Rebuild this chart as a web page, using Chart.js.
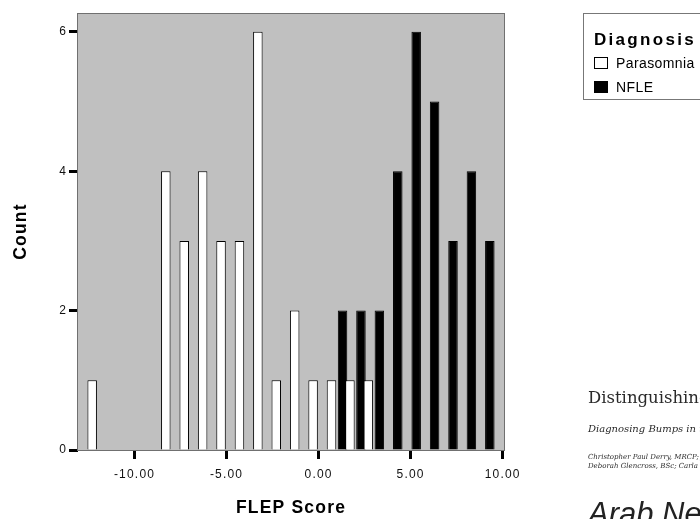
<!DOCTYPE html>
<html>
<head>
<meta charset="utf-8">
<script src="https://cdn.jsdelivr.net/npm/chart.js@4.4.1/dist/chart.umd.min.js"></script>
<style>
  html, body { margin: 0; padding: 0; background: #fff; }
  #wrap { position: relative; width: 700px; height: 519px; overflow: hidden; font-family: "Liberation Sans", Arial, sans-serif; }
  #flep { position: absolute; left: 0; top: 0; }
  #legend { position: absolute; left: 583px; top: 13px; width: 140px; height: 85px; border: 1px solid #777; border-right: none; }
  #legend .ttl { position: absolute; left: 10px; top: 17px; font-size: 17px; font-weight: bold; line-height: 17px; letter-spacing: 2.3px; color: #000; }
  #legend .row { position: absolute; left: 10px; height: 14px; }
  #legend .sw { position: absolute; left: 0; top: 0; width: 14px; height: 12px; border: 1px solid #000; box-sizing: border-box; }
  #legend .lbl { position: absolute; left: 22px; top: -1px; font-size: 14px; line-height: 14px; letter-spacing: 0.4px; white-space: nowrap; color: #000; }
  .paper { position: absolute; left: 588px; white-space: nowrap; color: #2a2a2a; }
</style>
</head>
<body>
<div id="wrap">
  <canvas id="flep" width="700" height="519"></canvas>
  <div id="legend"></div>
  <div class="paper" style="top:388px;font-family:'DejaVu Serif',serif;font-size:16.5px;">Distinguishing Nocturnal Frontal Lobe Epilepsy</div>
  <div class="paper" style="top:423px;font-family:'DejaVu Serif',serif;font-style:italic;font-size:10px;">Diagnosing Bumps in the Night</div>
  <div class="paper" style="top:453px;font-family:'DejaVu Serif',serif;font-style:italic;font-size:7px;">Christopher Paul Derry, MRCP; John S. Duncan</div>
  <div class="paper" style="top:462px;font-family:'DejaVu Serif',serif;font-style:italic;font-size:7px;">Deborah Glencross, BSc; Carla Ferreira</div>
  <div class="paper" style="top:496px;font-family:'Liberation Sans',Arial,sans-serif;font-style:italic;font-size:31px;color:#222;">Arab Ne</div>
</div>
<script>
// histogram bins (FLEP score) and counts per diagnosis
const parasomniaBins = [-12, -8, -7, -6, -5, -4, -3, -2, -1, 0, 1, 2, 3];
const parasomniaCounts = [1, 4, 3, 4, 3, 3, 6, 1, 2, 1, 1, 1, 1];
const nfleBins = [1, 2, 3, 4, 5, 6, 7, 8, 9];
const nfleCounts = [2, 2, 2, 4, 6, 5, 3, 4, 3];

const seriesNames = ['Parasomnia', 'NFLE'];
const seriesColors = ['#ffffff', '#000000'];
const xTicks = [-10, -5, 0, 5, 10];
const yTicks = [0, 2, 4, 6];
const xRange = [-13.07, 10.07];
const yRange = [0, 6.27];

const toPoints = (bins, counts) => bins.map((b, i) => ({ x: b, y: counts[i] }));

// gray plot background, frame and a little letter spacing like the SPSS output
const plotFrame = {
  id: 'plotFrame',
  beforeDraw(chart) {
    const { ctx, chartArea: a } = chart;
    ctx.letterSpacing = '1.2px';
    ctx.save();
    ctx.fillStyle = '#c0c0c0';
    ctx.fillRect(a.left, a.top, a.right - a.left, a.bottom - a.top);
    ctx.restore();
  },
  afterDatasetsDraw(chart) {
    const { ctx, chartArea: a } = chart;
    ctx.save();
    ctx.strokeStyle = '#707070';
    ctx.lineWidth = 1;
    ctx.strokeRect(a.left - 0.5, a.top + 0.5, a.right - a.left + 1, a.bottom - a.top);
    ctx.restore();
  }
};

const datasets = [
  { label: seriesNames[0], data: toPoints(parasomniaBins, parasomniaCounts) },
  { label: seriesNames[1], data: toPoints(nfleBins, nfleCounts) }
].map((d, i) => ({
  ...d,
  backgroundColor: seriesColors[i],
  borderColor: '#000',
  borderWidth: 1,
  borderSkipped: 'start',
  categoryPercentage: 1.2,
  barPercentage: 0.86
}));

// legend drawn next to the plot, from the same series names
const legendEl = document.getElementById('legend');
legendEl.innerHTML = '<div class="ttl">Diagnosis</div>' + seriesNames.map((n, i) =>
  `<div class="row" style="top:${43 + i * 24}px"><div class="sw" style="background:${seriesColors[i]}"></div><div class="lbl">${n}</div></div>`
).join('');

new Chart(document.getElementById('flep').getContext('2d'), {
  type: 'bar',
  data: { datasets },
  plugins: [plotFrame],
  options: {
    responsive: false,
    animation: false,
    devicePixelRatio: 1,
    layout: { padding: { left: 0, top: 13, right: 196, bottom: 0 } },
    plugins: { legend: { display: false }, tooltip: { enabled: false } },
    scales: {
      x: {
        type: 'linear',
        offset: false,
        min: xRange[0],
        max: xRange[1],
        afterFit: s => { s.height = 69; },
        afterBuildTicks: s => { s.ticks = xTicks.map(v => ({ value: v })); },
        border: { display: false },
        grid: { offset: false, drawOnChartArea: false, tickLength: 9, tickWidth: 3, tickColor: '#000' },
        ticks: {
          padding: 8,
          color: '#111',
          font: { family: '"Liberation Sans", Arial, sans-serif', size: 12 },
          callback: v => Number(v).toFixed(2)
        },
        title: {
          display: true,
          text: 'FLEP Score',
          color: '#000',
          padding: { top: 0, bottom: 0 },
          font: { family: '"Liberation Sans", Arial, sans-serif', size: 17.5, weight: 'bold' }
        }
      },
      y: {
        min: yRange[0],
        max: yRange[1],
        afterFit: s => { s.width = 78; },
        afterBuildTicks: s => { s.ticks = yTicks.map(v => ({ value: v })); },
        border: { display: false },
        grid: { drawOnChartArea: false, tickLength: 9, tickWidth: 3, tickColor: '#000' },
        ticks: {
          padding: 2,
          color: '#111',
          font: { family: '"Liberation Sans", Arial, sans-serif', size: 12 }
        },
        title: {
          display: true,
          text: 'Count',
          color: '#000',
          padding: { top: 11, bottom: 0 },
          font: { family: '"Liberation Sans", Arial, sans-serif', size: 17.5, weight: 'bold' }
        }
      }
    }
  }
});
</script>
</body>
</html>
